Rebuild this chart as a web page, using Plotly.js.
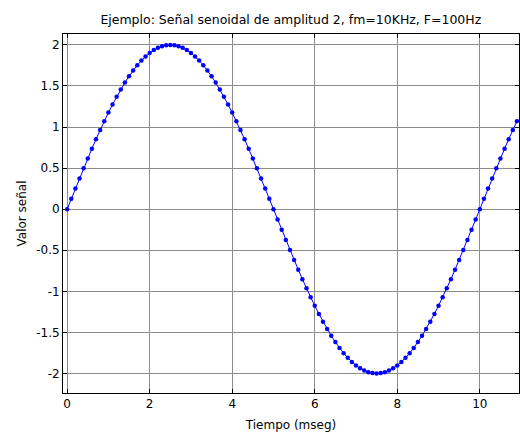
<!DOCTYPE html>
<html>
<head>
<meta charset="utf-8">
<script src="https://cdn.plot.ly/plotly-3.0.1.min.js"></script>
<style>html,body{margin:0;padding:0;background:#fff;}#chart{width:520px;height:434px;}</style>
</head>
<body>
<div id="chart"></div>
<script>
const tiempo = [0,0.1,0.2,0.3,0.4,0.5,0.6,0.7,0.8,0.9,
1,1.1,1.2,1.3,1.4,1.5,1.6,1.7,1.8,1.9,
2,2.1,2.2,2.3,2.4,2.5,2.6,2.7,2.8,2.9,
3,3.1,3.2,3.3,3.4,3.5,3.6,3.7,3.8,3.9,
4,4.1,4.2,4.3,4.4,4.5,4.6,4.7,4.8,4.9,
5,5.1,5.2,5.3,5.4,5.5,5.6,5.7,5.8,5.9,
6,6.1,6.2,6.3,6.4,6.5,6.6,6.7,6.8,6.9,
7,7.1,7.2,7.3,7.4,7.5,7.6,7.7,7.8,7.9,
8,8.1,8.2,8.3,8.4,8.5,8.6,8.7,8.8,8.9,
9,9.1,9.2,9.3,9.4,9.5,9.6,9.7,9.8,9.9,
10,10.1,10.2,10.3,10.4,10.5,10.6,10.7,10.8,10.9];
const senal = [0,0.126,0.251,0.375,0.497,0.618,0.736,0.852,0.964,1.072,
1.176,1.275,1.369,1.458,1.541,1.618,1.689,1.753,1.810,1.860,
1.902,1.937,1.965,1.984,1.996,2.000,1.996,1.984,1.965,1.937,
1.902,1.860,1.810,1.753,1.689,1.618,1.541,1.458,1.369,1.275,
1.176,1.072,0.964,0.852,0.736,0.618,0.497,0.375,0.251,0.126,
0,-0.126,-0.251,-0.375,-0.497,-0.618,-0.736,-0.852,-0.964,-1.072,
-1.176,-1.275,-1.369,-1.458,-1.541,-1.618,-1.689,-1.753,-1.810,-1.860,
-1.902,-1.937,-1.965,-1.984,-1.996,-2.000,-1.996,-1.984,-1.965,-1.937,
-1.902,-1.860,-1.810,-1.753,-1.689,-1.618,-1.541,-1.458,-1.369,-1.275,
-1.176,-1.072,-0.964,-0.852,-0.736,-0.618,-0.497,-0.375,-0.251,-0.126,
0,0.126,0.251,0.375,0.497,0.618,0.736,0.852,0.964,1.072];
const xTicks = [0,2,4,6,8,10];
const xTickText = ['0','2','4','6','8','10'];
const yTicks = [-2,-1.5,-1,-0.5,0,0.5,1,1.5,2];
const yTickText = ['-2','-1.5','-1','-0.5','0','0.5','1','1.5','2'];
const tituloTexto = 'Ejemplo: Señal senoidal de amplitud 2, fm=10KHz, F=100Hz';
const xTitulo = 'Tiempo (mseg)';
const yTitulo = 'Valor señal';

const fontFam = '"DejaVu Sans", "Liberation Sans", Arial, sans-serif';
const trace = {
  x: tiempo, y: senal, type: 'scatter', mode: 'lines+markers',
  line: {color: '#0000ff', width: 1},
  marker: {color: '#0000ff', size: 4.5},
  hoverinfo: 'skip'
};
const axisCommon = {
  showline: true, linecolor: '#000', linewidth: 1, mirror: 'allticks',
  ticks: 'inside', ticklen: 4, tickcolor: '#000', tickwidth: 1,
  showgrid: true, gridcolor: '#8c8c8c', gridwidth: 1,
  zeroline: false, tickfont: {family: fontFam, size: 12, color: '#000'},
  tickmode: 'array'
};
const layout = {
  width: 520, height: 434,
  margin: {l: 63, r: 1, t: 34, b: 41},
  paper_bgcolor: '#fff', plot_bgcolor: '#fff',
  showlegend: false,
  font: {family: fontFam, size: 12, color: '#000'},
  title: {text: tituloTexto, font: {family: fontFam, size: 12.5, color: '#000'},
          x: 0.5593, xanchor: 'center', y: 1 - 19.5/434, yanchor: 'middle', yref: 'container'},
  xaxis: Object.assign({}, axisCommon, {
    range: [-0.1, 10.95], tickvals: xTicks, ticktext: xTickText,
    title: {text: xTitulo, font: {family: fontFam, size: 12, color: '#000'}, standoff: 10}
  }),
  yaxis: Object.assign({}, axisCommon, {
    range: [-2.238, 2.133], tickvals: yTicks, ticktext: yTickText,
    title: {text: yTitulo, font: {family: fontFam, size: 12, color: '#000'}, standoff: 6}
  })
};
Plotly.newPlot('chart', [trace], layout, {staticPlot: true, displayModeBar: false});
</script>
</body>
</html>
